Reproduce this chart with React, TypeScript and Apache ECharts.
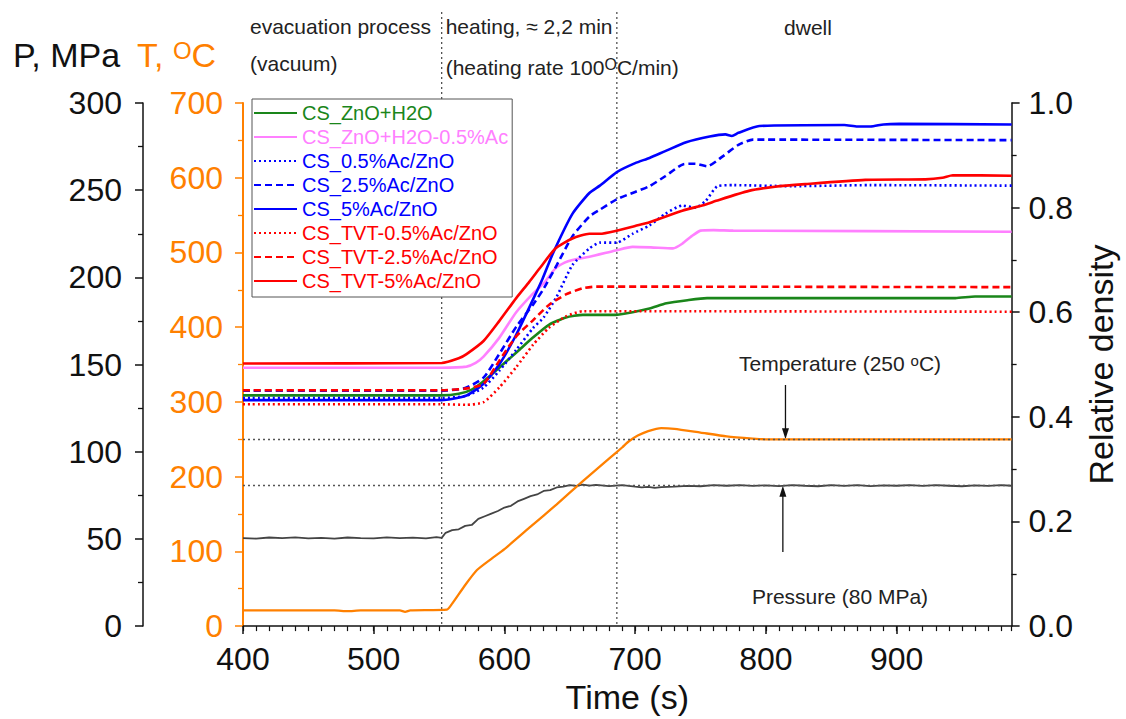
import React, { useEffect, useRef } from "react";
import * as echarts from "echarts";

const FONT = '"Liberation Sans", Arial, Helvetica, sans-serif';

// ---------- data ----------
const timeMin = 400;
const timeMax = 988;
const heatingStart = 552;
const heatingEnd = 686;
const tempHold = 250;
const pressureHold = 80.5;
const tempArrowTime = 815;
const pressureArrowTime = 813;

const seriesNames = [
  "CS_ZnO+H2O",
  "CS_ZnO+H2O-0.5%Ac",
  "CS_0.5%Ac/ZnO",
  "CS_2.5%Ac/ZnO",
  "CS_5%Ac/ZnO",
  "CS_TVT-0.5%Ac/ZnO",
  "CS_TVT-2.5%Ac/ZnO",
  "CS_TVT-5%Ac/ZnO",
];

const znoH2O: [number, number][] = [
  [400, 0.441], [552, 0.441], [565, 0.444], [575, 0.452], [585, 0.47], [596, 0.494],
  [610, 0.525], [622, 0.552], [634, 0.576], [647, 0.59], [660, 0.595], [685, 0.595],
  [698, 0.6], [711, 0.607], [724, 0.617], [740, 0.623], [755, 0.627], [945, 0.627],
  [960, 0.63], [988, 0.63],
];
const znoH2OAc: [number, number][] = [
  [400, 0.494], [552, 0.494], [571, 0.496], [578, 0.503], [584, 0.515], [596, 0.551],
  [609, 0.6], [622, 0.636], [630, 0.655], [639, 0.684], [646, 0.695], [652, 0.7],
  [665, 0.706], [685, 0.718], [698, 0.725], [712, 0.724], [729, 0.722], [736, 0.731],
  [743, 0.745], [750, 0.756], [760, 0.757], [775, 0.756], [988, 0.754],
];
const ac05: [number, number][] = [
  [400, 0.436], [552, 0.436], [570, 0.44], [584, 0.456], [596, 0.488], [609, 0.528],
  [622, 0.57], [630, 0.59], [640, 0.63], [652, 0.69], [665, 0.722], [673, 0.733],
  [686, 0.733], [698, 0.75], [711, 0.766], [723, 0.788], [736, 0.804], [746, 0.8],
  [754, 0.813], [763, 0.841], [775, 0.843], [820, 0.841], [880, 0.843], [988, 0.842],
];
const ac25: [number, number][] = [
  [400, 0.45], [552, 0.45], [570, 0.455], [584, 0.475], [596, 0.52], [609, 0.572],
  [622, 0.615], [630, 0.645], [640, 0.69], [652, 0.745], [665, 0.783], [673, 0.796],
  [686, 0.816], [700, 0.83], [711, 0.841], [723, 0.86], [737, 0.883], [746, 0.884],
  [755, 0.879], [767, 0.898], [779, 0.92], [790, 0.93], [988, 0.929],
];
const ac5: [number, number][] = [
  [400, 0.432], [552, 0.432], [571, 0.441], [584, 0.463], [596, 0.5], [609, 0.557],
  [622, 0.625], [629, 0.663], [637, 0.712], [652, 0.788], [665, 0.828], [673, 0.842],
  [686, 0.868], [700, 0.885], [711, 0.895], [723, 0.908], [739, 0.925], [757, 0.936],
  [769, 0.94], [774, 0.937], [779, 0.943], [795, 0.956], [860, 0.958], [870, 0.955],
  [880, 0.955], [890, 0.959], [902, 0.96], [988, 0.959],
];
const tvt05: [number, number][] = [
  [400, 0.424], [552, 0.424], [571, 0.423], [584, 0.428], [596, 0.456], [609, 0.495],
  [622, 0.538], [634, 0.57], [647, 0.592], [660, 0.602], [988, 0.601],
];
const tvt25: [number, number][] = [
  [400, 0.451], [552, 0.451], [570, 0.454], [584, 0.463], [596, 0.507], [609, 0.554],
  [622, 0.585], [634, 0.614], [647, 0.634], [660, 0.646], [670, 0.649], [988, 0.648],
];
const tvt5: [number, number][] = [
  [400, 0.502], [552, 0.503], [565, 0.512], [571, 0.52], [584, 0.545], [596, 0.583],
  [609, 0.627], [619, 0.658], [627, 0.684], [639, 0.722], [652, 0.741], [665, 0.75],
  [673, 0.75], [686, 0.756], [700, 0.765], [711, 0.772], [736, 0.794], [754, 0.806],
  [762, 0.813], [787, 0.832], [807, 0.84], [830, 0.845], [876, 0.853], [922, 0.854],
  [935, 0.857], [943, 0.862], [988, 0.861],
];

const temperature: [number, number][] = [
  [400, 21], [470, 21], [480, 20], [490, 21], [520, 21], [524, 19], [528, 21], [556, 22],
  [560, 30], [570, 55], [579, 75], [590, 90], [600, 103], [620, 133], [640, 163],
  [660, 194], [680, 224], [690, 239], [695, 247], [702, 255], [710, 261], [720, 265],
  [730, 264], [750, 259], [770, 254], [790, 251], [800, 250], [988, 250],
];

const pressure: [number, number][] = [
  [400, 50.5], [410, 50.2], [420, 50.8], [430, 50.4], [440, 50.9], [450, 50.3], [460, 50.6],
  [470, 50.2], [480, 50.8], [490, 50.5], [500, 50.3], [510, 50.9], [520, 50.4], [530, 50.7],
  [540, 50.3], [548, 51.0], [552, 50.6], [555, 53.5], [560, 55.0], [565, 55.5], [570, 57.5],
  [575, 58.0], [580, 61.5], [585, 63.0], [590, 64.5], [595, 66.0], [600, 68.0], [605, 69.0],
  [610, 71.5], [615, 73.0], [620, 74.5], [625, 75.5], [630, 77.5], [635, 78.0], [640, 79.5],
  [645, 80.0], [650, 80.8], [655, 80.4], [660, 81.2], [665, 80.6], [670, 81.0], [680, 80.3],
  [690, 80.9], [700, 80.0], [705, 79.6], [710, 79.8], [715, 79.3], [720, 79.7], [730, 80.0],
  [740, 80.4], [750, 80.2], [760, 80.8], [770, 80.5], [780, 80.9], [790, 80.4], [800, 80.7],
  [810, 80.3], [820, 80.9], [830, 80.5], [840, 80.2], [850, 80.8], [860, 80.4], [870, 80.9],
  [880, 80.3], [890, 80.7], [900, 80.5], [910, 80.9], [920, 80.4], [930, 80.8], [940, 80.5],
  [950, 80.2], [960, 80.7], [970, 80.4], [980, 80.8], [988, 80.5],
];

const densityData = [znoH2O, znoH2OAc, ac05, ac25, ac5, tvt05, tvt25, tvt5];

// ---------- styles ----------
const GREEN = "#1a861a";
const PINK = "#ff80ff";
const BLUE = "#0000ff";
const RED = "#ff0000";
const ORANGE = "#ff8000";
const DARK = "#111111";
const DOTTED = [2, 3];
const DASHED = [7, 4];

const densityStyles = [
  { color: GREEN, type: "solid" as any },
  { color: PINK, type: "solid" as any },
  { color: BLUE, type: DOTTED as any },
  { color: BLUE, type: DASHED as any },
  { color: BLUE, type: "solid" as any },
  { color: RED, type: DOTTED as any },
  { color: RED, type: DASHED as any },
  { color: RED, type: "solid" as any },
];

function buildOption(): any {
  const tickFont = { fontFamily: FONT, fontSize: 32 };
  const nameFont = { fontFamily: FONT, fontSize: 34 };
  const densitySeries = seriesNames.map((name, i) => ({
    name,
    type: "line",
    xAxisIndex: 0,
    yAxisIndex: 2,
    data: densityData[i],
    symbol: "none",
    showSymbol: false,
    smooth: 0.2,
    lineStyle: { color: densityStyles[i].color, width: 2.6, type: densityStyles[i].type },
    itemStyle: { color: densityStyles[i].color },
    emphasis: { disabled: true },
    z: 3,
  }));

  return {
    animation: false,
    backgroundColor: "#ffffff",
    grid: { left: 243, right: 113, top: 103, bottom: 88, containLabel: false },
    legend: {
      orient: "vertical",
      left: 252,
      top: 99,
      padding: [4, 4, 6, 1],
      itemWidth: 43,
      itemHeight: 14,
      itemGap: 4,
      backgroundColor: "#ffffff",
      borderColor: "#555555",
      borderWidth: 1,
      selectedMode: false,
      itemStyle: { opacity: 0, borderWidth: 0 },
      textStyle: { fontFamily: FONT, fontSize: 20, lineHeight: 18 },
      data: seriesNames.map((name, i) => ({
        name,
        textStyle: { color: densityStyles[i].color },
      })),
    },
    xAxis: [
      {
        type: "value",
        min: timeMin,
        max: timeMax,
        interval: 100,
        position: "bottom",
        axisLine: { onZero: false, lineStyle: { color: DARK, width: 1.5 } },
        axisTick: { length: 8, lineStyle: { color: DARK, width: 1.5 } },
        axisLabel: { ...tickFont, color: DARK, margin: 17, showMaxLabel: false },
        splitLine: { show: false },
        name: "Time (s)",
        nameLocation: "middle",
        nameGap: 52,
        nameTextStyle: { ...nameFont, color: DARK },
      },
      {
        type: "value",
        min: timeMin,
        max: timeMax,
        interval: 10,
        position: "bottom",
        axisLine: { show: false, onZero: false },
        axisTick: { length: 5, lineStyle: { color: DARK, width: 1.2 } },
        axisLabel: { show: false },
        splitLine: { show: false },
      },
    ],
    yAxis: [
      {
        type: "value",
        min: 0,
        max: 300,
        interval: 50,
        position: "left",
        offset: 100,
        axisLine: { show: true, onZero: false, lineStyle: { color: DARK, width: 1.5 } },
        axisTick: { show: true, length: 8, lineStyle: { color: DARK, width: 1.5 } },
        minorTick: { show: true, splitNumber: 2, length: 5, lineStyle: { color: DARK, width: 1.3 } },
        axisLabel: { ...tickFont, color: DARK, margin: 21 },
        splitLine: { show: false },
      },
      {
        type: "value",
        min: 0,
        max: 700,
        interval: 100,
        position: "left",
        offset: 0,
        axisLine: { show: true, onZero: false, lineStyle: { color: ORANGE, width: 2 } },
        axisTick: { show: true, length: 8, lineStyle: { color: ORANGE, width: 1.5 } },
        minorTick: { show: true, splitNumber: 2, length: 5, lineStyle: { color: ORANGE, width: 1.3 } },
        axisLabel: { ...tickFont, color: ORANGE, margin: 20 },
        splitLine: { show: false },
      },
      {
        type: "value",
        min: 0,
        max: 1,
        interval: 0.2,
        position: "right",
        axisLine: { show: true, onZero: false, lineStyle: { color: DARK, width: 1.5 } },
        axisTick: { show: true, length: 8, lineStyle: { color: DARK, width: 1.5 } },
        minorTick: { show: true, splitNumber: 2, length: 5, lineStyle: { color: DARK, width: 1.3 } },
        axisLabel: { ...tickFont, color: DARK, margin: 17, formatter: (v: number) => v.toFixed(1) },
        splitLine: { show: false },
        name: "Relative density",
        nameLocation: "middle",
        nameGap: 71,
        nameTextStyle: { ...nameFont, color: DARK },
      },
    ],
    series: [
      {
        name: "Pressure",
        type: "line",
        xAxisIndex: 0,
        yAxisIndex: 0,
        data: pressure,
        symbol: "none",
        showSymbol: false,
        lineStyle: { color: "#444444", width: 1.8 },
        emphasis: { disabled: true },
        z: 2,
        markLine: {
          silent: true,
          symbol: "none",
          label: { show: false },
          lineStyle: { color: "#555555", type: DOTTED, width: 1.3 },
          data: [{ yAxis: pressureHold }],
        },
      },
      {
        name: "Temperature",
        type: "line",
        xAxisIndex: 0,
        yAxisIndex: 1,
        data: temperature,
        symbol: "none",
        showSymbol: false,
        smooth: 0.2,
        lineStyle: { color: ORANGE, width: 2.3 },
        emphasis: { disabled: true },
        z: 2,
        markLine: {
          silent: true,
          symbol: "none",
          label: { show: false },
          lineStyle: { color: "#555555", type: DOTTED, width: 1.3 },
          data: [{ yAxis: tempHold }],
        },
      },
      ...densitySeries,
    ],
  };
}

export default function App() {
  const ref = useRef<HTMLDivElement>(null);
  useEffect(() => {
    if (!ref.current) return;
    const chart = echarts.init(ref.current, null, { renderer: "svg" });
    chart.setOption(buildOption());

    const px = (t: number) => chart.convertToPixel({ xAxisIndex: 0 }, t) as number;
    const pyT = (v: number) => chart.convertToPixel({ yAxisIndex: 1 }, v) as number;
    const pyP = (v: number) => chart.convertToPixel({ yAxisIndex: 0 }, v) as number;

    const xs = px(heatingStart);
    const xe = px(heatingEnd);
    const yBottom = pyT(0);
    const yT = pyT(tempHold);
    const yP = pyP(pressureHold);
    const xTA = px(tempArrowTime);
    const xPA = px(pressureArrowTime);

    const annText = (x: number, y: number, text: string, align = "left", rich?: any) => ({
      type: "text",
      x,
      y,
      silent: true,
      style: {
        text,
        fontFamily: FONT,
        fontSize: 21,
        fill: "#222222",
        align,
        verticalAlign: "middle",
        rich,
      },
    });

    const supRich = (size: number, supSize: number, color: string) => ({
      a: { fontFamily: FONT, fontSize: size, fill: color },
      s: { fontFamily: FONT, fontSize: supSize, fill: color, verticalAlign: "top" },
    });

    chart.setOption({
      graphic: [
        {
          type: "line",
          silent: true,
          shape: { x1: xs, y1: 12, x2: xs, y2: yBottom },
          style: { stroke: "#444444", lineWidth: 1.2, lineDash: [2, 3] },
        },
        {
          type: "line",
          silent: true,
          shape: { x1: xe, y1: 12, x2: xe, y2: yBottom },
          style: { stroke: "#444444", lineWidth: 1.2, lineDash: [2, 3] },
        },
        annText(250, 26, "evacuation process"),
        annText(250, 63, "(vacuum)"),
        annText(xs + 4, 26, "heating, ≈ 2,2 min"),
        annText(xs + 4, 67, "{a|(heating rate 100}{s|O}{a|C/min)}", "left", supRich(21, 16, "#222222")),
        annText(808, 27, "dwell", "center"),
        {
          type: "text",
          x: 13,
          y: 55,
          silent: true,
          style: { text: "P, MPa", fontFamily: FONT, fontSize: 34, fill: DARK, align: "left", verticalAlign: "middle" },
        },
        {
          type: "text",
          x: 137,
          y: 55,
          silent: true,
          style: {
            text: "{a|T, }{s|O}{a|C}",
            align: "left",
            verticalAlign: "middle",
            rich: supRich(34, 24, ORANGE),
          },
        },
        annText(840, 363, "{a|Temperature (250 }{s|o}{a|C)}", "center", supRich(21, 15, "#222222")),
        {
          type: "line",
          silent: true,
          shape: { x1: xTA, y1: 385, x2: xTA, y2: yT - 9 },
          style: { stroke: "#111111", lineWidth: 1.3 },
        },
        {
          type: "polygon",
          silent: true,
          shape: { points: [[xTA - 3.5, yT - 11], [xTA + 3.5, yT - 11], [xTA, yT]] },
          style: { fill: "#111111" },
        },
        annText(840, 596, "Pressure (80 MPa)", "center"),
        {
          type: "line",
          silent: true,
          shape: { x1: xPA, y1: 552, x2: xPA, y2: yP + 9 },
          style: { stroke: "#111111", lineWidth: 1.3 },
        },
        {
          type: "polygon",
          silent: true,
          shape: { points: [[xPA - 3.5, yP + 11], [xPA + 3.5, yP + 11], [xPA, yP]] },
          style: { fill: "#111111" },
        },
      ],
    });

    return () => chart.dispose();
  }, []);

  return (
    <div
      ref={ref}
      style={{ position: "absolute", left: 0, top: 0, width: 1126, height: 719, background: "#ffffff" }}
    />
  );
}
